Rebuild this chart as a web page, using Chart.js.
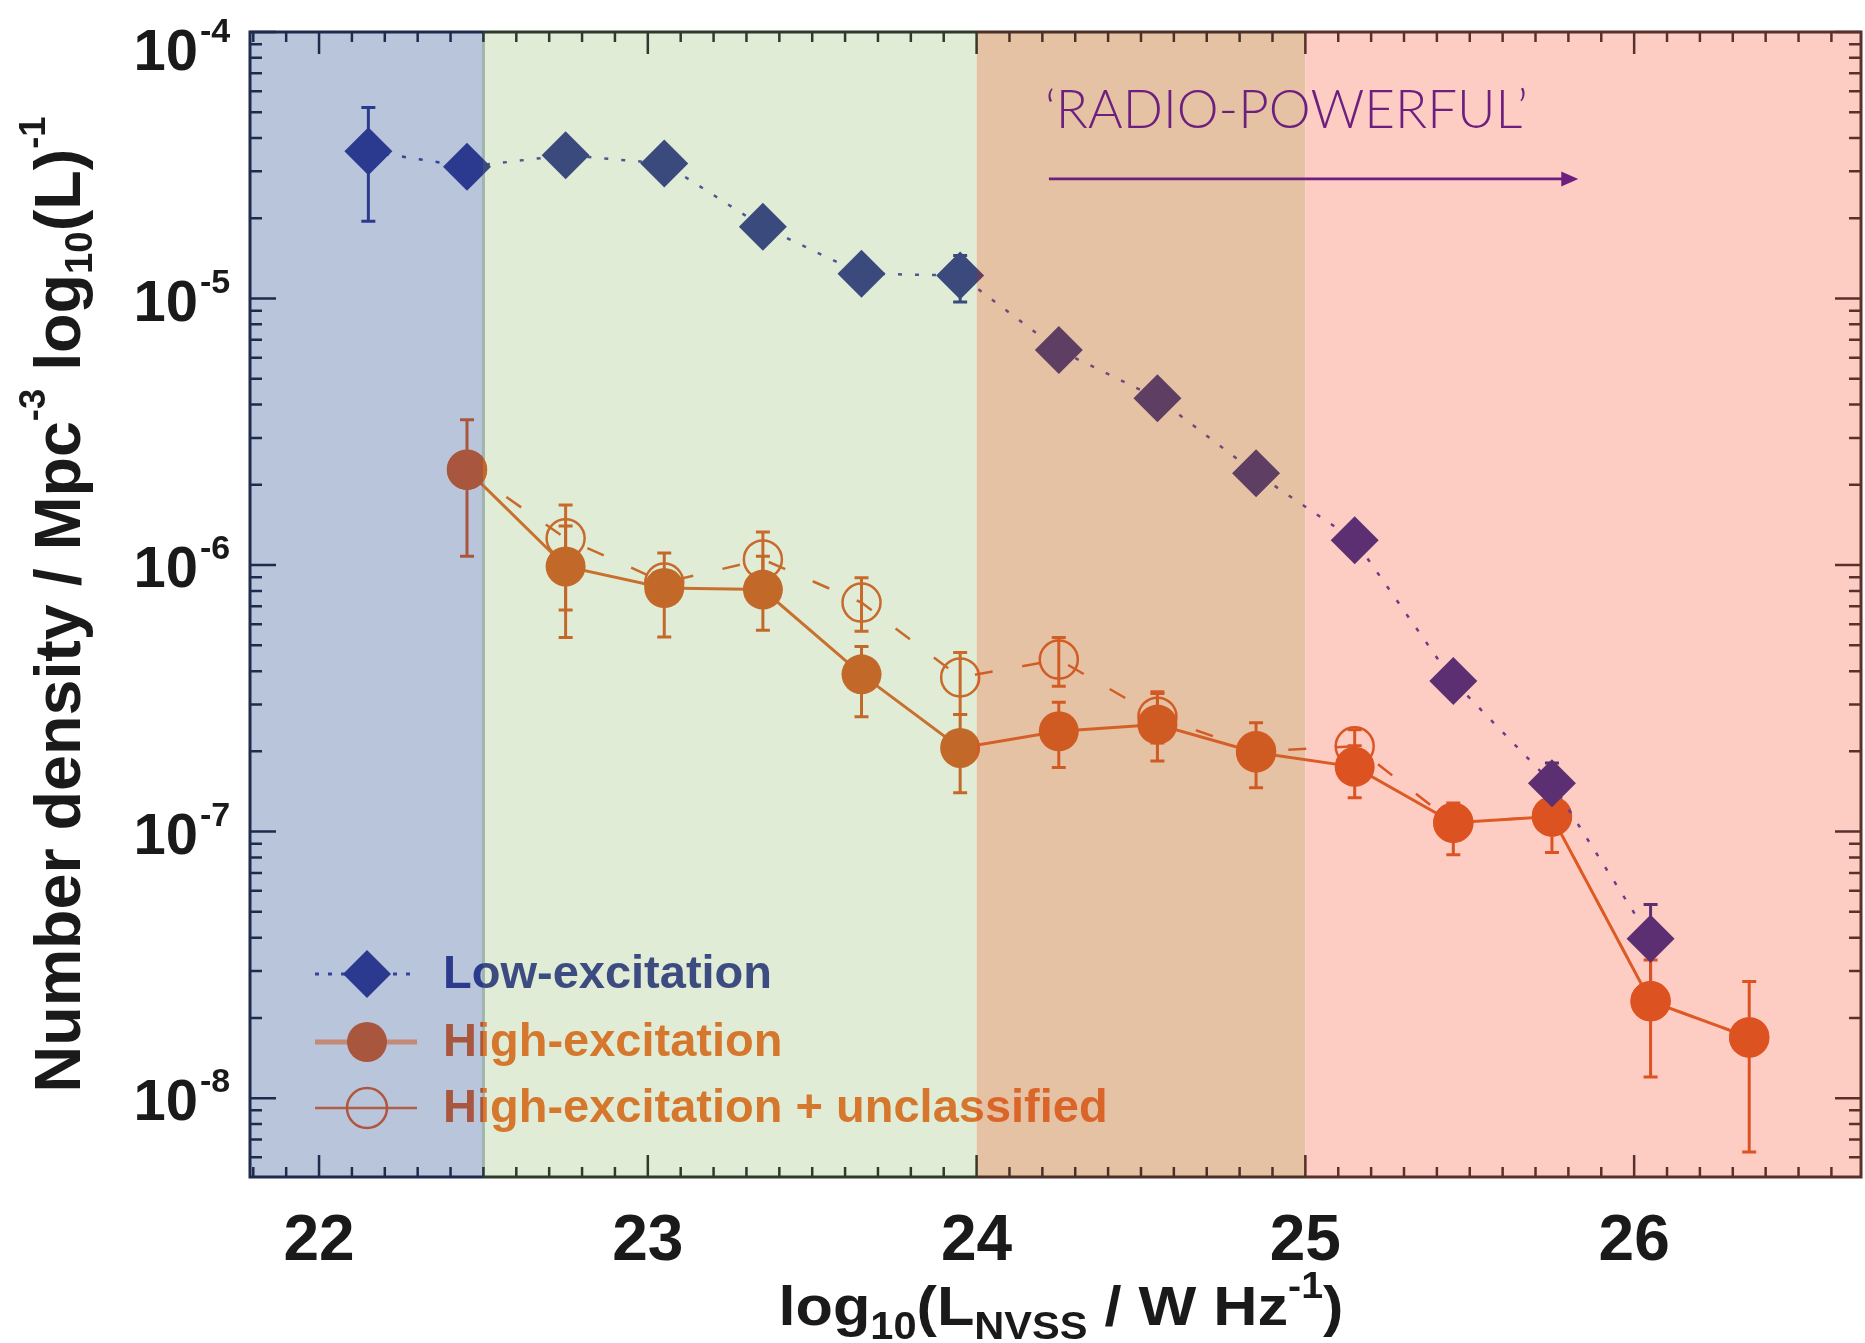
<!DOCTYPE html>
<html>
<head>
<meta charset="utf-8">
<title>Radio luminosity functions</title>
<script src="https://cdn.jsdelivr.net/npm/chart.js@4.4.1/dist/chart.umd.min.js"></script>
<style>
  html, body { margin: 0; padding: 0; background: #fff; }
  #lfChart { display: block; }
</style>
</head>
<body>
<canvas id="lfChart" width="1865" height="1343"></canvas>
<script>
// bin centres in log10(L_NVSS / W Hz^-1)
const lumBins = [22.15, 22.45, 22.75, 23.05, 23.35, 23.65, 23.95, 24.25, 24.55, 24.85, 25.15, 25.45, 25.75, 26.05, 26.35];

// number densities (Mpc^-3 dex^-1) with lower / upper error bounds
const lowExc   = [3.57e-5, 3.12e-5, 3.45e-5, 3.21e-5, 1.86e-5, 1.24e-5, 1.22e-5, 6.41e-6, 4.23e-6, 2.21e-6, 1.24e-6, 3.67e-7, 1.52e-7, 3.96e-8, null];
const lowExcLo = [1.95e-5, null, null, null, null, null, 9.7e-6, null, null, null, null, null, 1.20e-7, 2.57e-8, null];
const lowExcHi = [5.21e-5, null, null, null, null, null, 1.45e-5, null, null, null, null, null, 1.81e-7, 5.33e-8, null];

const highExc   = [null, 2.28e-6, 9.88e-7, 8.20e-7, 8.09e-7, 3.89e-7, 2.06e-7, 2.38e-7, 2.52e-7, 1.98e-7, 1.75e-7, 1.08e-7, 1.14e-7, 2.31e-8, 1.69e-8];
const highExcLo = [null, 1.08e-6, 5.35e-7, 5.37e-7, 5.70e-7, 2.70e-7, 1.40e-7, 1.74e-7, 1.84e-7, 1.46e-7, 1.34e-7, 8.18e-8, 8.35e-8, 1.20e-8, 6.28e-9];
const highExcHi = [null, 3.51e-6, 1.40e-6, 1.11e-6, 1.08e-6, 4.95e-7, 2.75e-7, 3.06e-7, 3.30e-7, 2.56e-7, 2.10e-7, 1.28e-7, 1.37e-7, 3.30e-8, 2.74e-8];

const highUnc   = [null, 2.28e-6, 1.26e-6, 8.6e-7, 1.05e-6, 7.23e-7, 3.79e-7, 4.42e-7, 2.70e-7, 2.00e-7, 2.09e-7, 1.08e-7, 1.14e-7, 2.31e-8, 1.69e-8];
const highUncLo = [null, null, 6.79e-7, null, 8.3e-7, 5.65e-7, 2.75e-7, 3.51e-7, 2.15e-7, null, 1.8e-7, null, null, null, null];
const highUncHi = [null, null, 1.68e-6, null, 1.33e-6, 8.97e-7, 4.70e-7, 5.35e-7, 3.35e-7, null, 2.41e-7, null, null, null, null];

const seriesNames = ['Low-excitation', 'High-excitation', 'High-excitation + unclassified'];

const xTicks = [22, 23, 24, 25, 26];
const yTicks = [1e-4, 1e-5, 1e-6, 1e-7, 1e-8];
const yTickExps = ['-4', '-5', '-6', '-7', '-8'];

// luminosity bands shaded behind the data
const bandEdges = [22.5, 24, 25];
const radioLabel = '\u2018RADIO-POWERFUL\u2019';
const radioArrow = { from: 24.22, to: 25.83, y: 2.81e-5, labelY: 4.36e-5 };

const FONT = "'Liberation Sans', Arial, Helvetica, sans-serif";

// one colour per band: [< 22.5, 22.5-24, 24-25, > 25]
const BAND_BG   = ['#b9c5da', '#e1ecd6', '#e6c2a4', '#fdcdc4'];
const FRAME     = ['#1f2b4c', '#2d3a2c', '#4a3026', '#5a302d'];
const LE_FILL   = ['#2b3a8e', '#3a4a7d', '#5e3e63', '#5c2f72'];
const LE_LINE   = ['#34449a', '#4d5890', '#6e4a78', '#6a3f88'];
const HE_FILL   = ['#a9563f', '#c2692a', '#cf5b22', '#dc5220'];
const HE_LINE   = ['#b0604a', '#c8702e', '#d46028', '#de5a25'];
const HEU_LINE  = ['#b0563f', '#c86a2c', '#d25c26', '#dd5424'];
const LE_TEXT   = ['#2b3a8c', '#3c4b80', '#5e3e63', '#5c2f72'];
const HE_TEXT   = ['#a9563f', '#d5772d', '#da6529', '#dc5a26'];

function bandGradient(chart, colors) {
  const area = chart.chartArea;
  const x = chart.scales.x;
  if (!area || !x) return colors[1];
  const w = area.right - area.left;
  const g = chart.ctx.createLinearGradient(area.left, 0, area.right, 0);
  const stops = bandEdges.map(v => Math.min(1, Math.max(0, (x.getPixelForValue(v) - area.left) / w)));
  colors.forEach((c, i) => {
    g.addColorStop(i === 0 ? 0 : stops[i - 1], c);
    g.addColorStop(i === colors.length - 1 ? 1 : stops[i], c);
  });
  return g;
}

function points(values) {
  return lumBins.map((x, i) => ({ x, y: values[i] })).filter(p => p.y !== null);
}

// draws a row of text pieces of mixed size (sub/superscripts), centred on 0
function drawRuns(ctx, runs, targetWidth) {
  let total = 0;
  const widths = runs.map(r => {
    ctx.font = `bold ${r[1]}px ${FONT}`;
    const w = ctx.measureText(r[0]).width;
    total += w;
    return w;
  });
  const sx = targetWidth ? targetWidth / total : 1;
  ctx.save();
  ctx.scale(sx, 1);
  let cx = -total / 2;
  runs.forEach((r, i) => {
    ctx.font = `bold ${r[1]}px ${FONT}`;
    ctx.fillText(r[0], cx, r[2]);
    cx += widths[i];
  });
  ctx.restore();
}

const bandsPlugin = {
  id: 'bands',
  beforeDatasetsDraw(chart) {
    const { ctx, chartArea: a, scales: { x } } = chart;
    const edges = [a.left, ...bandEdges.map(v => x.getPixelForValue(v)), a.right];
    ctx.save();
    for (let i = 0; i < BAND_BG.length; i++) {
      ctx.fillStyle = BAND_BG[i];
      ctx.fillRect(edges[i], a.top, edges[i + 1] - edges[i], a.bottom - a.top);
    }
    // faint rule on the first band edge
    ctx.strokeStyle = '#9fb4ad';
    ctx.lineWidth = 3;
    ctx.beginPath();
    ctx.moveTo(edges[1], a.top);
    ctx.lineTo(edges[1], a.bottom);
    ctx.stroke();
    ctx.restore();
  }
};

const errorSets = [
  { lo: lowExcLo, hi: lowExcHi, colors: LE_FILL },
  { lo: highUncLo, hi: highUncHi, colors: HEU_LINE },
  { lo: highExcLo, hi: highExcHi, colors: HE_FILL }
];

const errorBarPlugin = {
  id: 'errorBars',
  beforeDatasetsDraw(chart) {
    const { ctx, scales: { x, y } } = chart;
    ctx.save();
    ctx.lineWidth = 3;
    errorSets.forEach(set => {
      ctx.strokeStyle = bandGradient(chart, set.colors);
      ctx.beginPath();
      lumBins.forEach((lum, i) => {
        if (set.lo[i] === null || set.hi[i] === null) return;
        const px = x.getPixelForValue(lum);
        const yLo = y.getPixelForValue(set.lo[i]);
        const yHi = y.getPixelForValue(set.hi[i]);
        ctx.moveTo(px, yHi); ctx.lineTo(px, yLo);
        ctx.moveTo(px - 7, yHi); ctx.lineTo(px + 7, yHi);
        ctx.moveTo(px - 7, yLo); ctx.lineTo(px + 7, yLo);
      });
      ctx.stroke();
    });
    ctx.restore();
  }
};

const axesPlugin = {
  id: 'axes',
  afterDatasetsDraw(chart) {
    const { ctx, chartArea: a, scales: { x, y } } = chart;
    ctx.save();

    // frame and inward ticks on all four sides
    const frame = bandGradient(chart, FRAME);
    ctx.strokeStyle = frame;
    ctx.lineWidth = 3;
    ctx.strokeRect(a.left, a.top, a.right - a.left, a.bottom - a.top);

    ctx.lineWidth = 2.5;
    ctx.beginPath();
    for (let t = Math.ceil(x.min * 10 - 1e-6); t <= Math.floor(x.max * 10 + 1e-6); t++) {
      const px = x.getPixelForValue(t / 10);
      const len = t % 10 === 0 ? 22 : 10;
      ctx.moveTo(px, a.bottom); ctx.lineTo(px, a.bottom - len);
      ctx.moveTo(px, a.top); ctx.lineTo(px, a.top + len);
    }
    for (let e = -9; e <= -4; e++) {
      for (let m = 1; m <= 9; m++) {
        const v = m * Math.pow(10, e);
        if (v < y.min || v > y.max * 1.0001) continue;
        const py = y.getPixelForValue(v);
        const len = m === 1 ? 26 : 12;
        ctx.moveTo(a.left, py); ctx.lineTo(a.left + len, py);
        ctx.moveTo(a.right, py); ctx.lineTo(a.right - len, py);
      }
    }
    ctx.stroke();

    // tick labels
    ctx.fillStyle = '#1a1a1a';
    ctx.textBaseline = 'alphabetic';
    ctx.font = `bold 64px ${FONT}`;
    ctx.textAlign = 'center';
    xTicks.forEach(t => ctx.fillText(String(t), x.getPixelForValue(t), a.bottom + 83));

    yTicks.forEach((t, i) => {
      const base = Math.max(y.getPixelForValue(t) + 22, a.top + 38);
      ctx.font = `bold 58px ${FONT}`;
      ctx.textAlign = 'right';
      ctx.fillText('10', a.left - 52, base);
      ctx.font = `bold 34px ${FONT}`;
      ctx.textAlign = 'left';
      ctx.fillText(yTickExps[i], a.left - 50, base - 28);
    });

    // axis titles
    ctx.textAlign = 'left';
    ctx.save();
    ctx.translate(1061, a.bottom + 148);
    drawRuns(ctx, [
      ['log', 56, 0], ['10', 38, 14], ['(L', 56, 0], ['NVSS', 38, 14],
      [' / W Hz', 56, 0], ['-1', 36, -27], [')', 56, 0]
    ], 565);
    ctx.restore();

    ctx.save();
    ctx.translate(80, (a.top + a.bottom) / 2);
    ctx.rotate(-Math.PI / 2);
    drawRuns(ctx, [
      ['Number density / Mpc', 64, 0], ['-3', 36, -35], [' log', 64, 0],
      ['10', 38, 12], ['(L)', 64, 0], ['-1', 36, -35]
    ], 976);
    ctx.restore();

    ctx.restore();
  }
};

const legendPlugin = {
  id: 'bandLegend',
  afterDatasetsDraw(chart) {
    const { ctx, chartArea: a } = chart;
    const rows = [
      { y: 974, lineColor: '#34449a', lineWidth: 3, dash: [4, 9], style: 'rectRot', r: 24, fill: '#2b3a8e', stroke: null, text: LE_TEXT },
      { y: 1042, lineColor: '#c48a76', lineWidth: 5, dash: [], style: 'circle', r: 20, fill: '#a9563f', stroke: null, text: HE_TEXT },
      { y: 1108, lineColor: '#b0604a', lineWidth: 2.5, dash: [], style: 'circle', r: 20, fill: 'rgba(0,0,0,0)', stroke: '#b0563f', text: HE_TEXT }
    ];
    const x0 = a.left + 65, x1 = a.left + 167, xm = a.left + 117;
    ctx.save();
    rows.forEach((row, i) => {
      ctx.strokeStyle = row.lineColor;
      ctx.lineWidth = row.lineWidth;
      ctx.setLineDash(row.dash);
      ctx.beginPath();
      ctx.moveTo(x0, row.y); ctx.lineTo(x1, row.y);
      ctx.stroke();
      ctx.setLineDash([]);
      ctx.fillStyle = row.fill;
      ctx.strokeStyle = row.stroke || row.fill;
      Chart.helpers.drawPoint(ctx, { pointStyle: row.style, rotation: 0, radius: row.r, borderWidth: row.stroke ? 2.5 : 0 }, xm, row.y);
      ctx.fillStyle = bandGradient(chart, row.text);
      ctx.font = `bold 47px ${FONT}`;
      ctx.textAlign = 'left';
      ctx.textBaseline = 'alphabetic';
      ctx.fillText(seriesNames[i], a.left + 193, row.y + 14);
    });
    ctx.restore();
  }
};

const annotationPlugin = {
  id: 'radioPowerful',
  afterDatasetsDraw(chart) {
    const { ctx, scales: { x, y } } = chart;
    const color = '#6c1f7e';
    const xa = x.getPixelForValue(radioArrow.from);
    const xb = x.getPixelForValue(radioArrow.to);
    const ya = y.getPixelForValue(radioArrow.y);
    ctx.save();
    ctx.strokeStyle = color;
    ctx.fillStyle = color;
    ctx.lineWidth = 2.7;
    ctx.beginPath();
    ctx.moveTo(xa, ya); ctx.lineTo(xb - 14, ya);
    ctx.stroke();
    ctx.beginPath();
    ctx.moveTo(xb, ya); ctx.lineTo(xb - 17, ya - 7.5); ctx.lineTo(xb - 17, ya + 7.5);
    ctx.closePath();
    ctx.fill();

    ctx.font = "300 54px Lato, 'Open Sans', sans-serif";
    ctx.textAlign = 'left';
    ctx.textBaseline = 'alphabetic';
    const w = ctx.measureText(radioLabel).width;
    const ty = y.getPixelForValue(radioArrow.labelY);
    ctx.translate(xa - 4, ty);
    ctx.scale(483 / w, 1);
    ctx.fillText(radioLabel, 0, 0);
    ctx.restore();
  }
};

new Chart(document.getElementById('lfChart'), {
  type: 'line',
  data: {
    datasets: [
      {
        label: seriesNames[0],
        data: points(lowExc),
        borderColor: c => bandGradient(c.chart, LE_LINE),
        borderWidth: 2.5,
        borderDash: [4, 13],
        pointStyle: 'rectRot',
        pointRadius: 24,
        pointBorderWidth: 0,
        pointBackgroundColor: c => bandGradient(c.chart, LE_FILL),
        tension: 0
      },
      {
        label: seriesNames[1],
        data: points(highExc),
        borderColor: c => bandGradient(c.chart, HE_LINE),
        borderWidth: 3,
        pointStyle: 'circle',
        pointRadius: 20,
        pointBorderWidth: 0,
        pointBackgroundColor: c => bandGradient(c.chart, HE_FILL),
        tension: 0
      },
      {
        label: seriesNames[2],
        data: points(highUnc),
        borderColor: c => bandGradient(c.chart, HEU_LINE),
        borderWidth: 2.5,
        borderDash: [18, 30],
        pointStyle: 'circle',
        pointRadius: 19,
        pointBorderWidth: 2.5,
        pointBorderColor: c => bandGradient(c.chart, HEU_LINE),
        pointBackgroundColor: 'rgba(0,0,0,0)',
        tension: 0
      }
    ]
  },
  options: {
    responsive: false,
    animation: false,
    devicePixelRatio: 1,
    events: [],
    layout: { autoPadding: false, padding: { left: 250, right: 4, top: 32, bottom: 166 } },
    scales: {
      x: { type: 'linear', min: 21.79, max: 26.69, display: false },
      y: { type: 'logarithmic', min: 5.06e-9, max: 1e-4, display: false }
    },
    plugins: {
      legend: { display: false },
      tooltip: { enabled: false }
    }
  },
  plugins: [bandsPlugin, errorBarPlugin, axesPlugin, legendPlugin, annotationPlugin]
});
</script>
</body>
</html>
